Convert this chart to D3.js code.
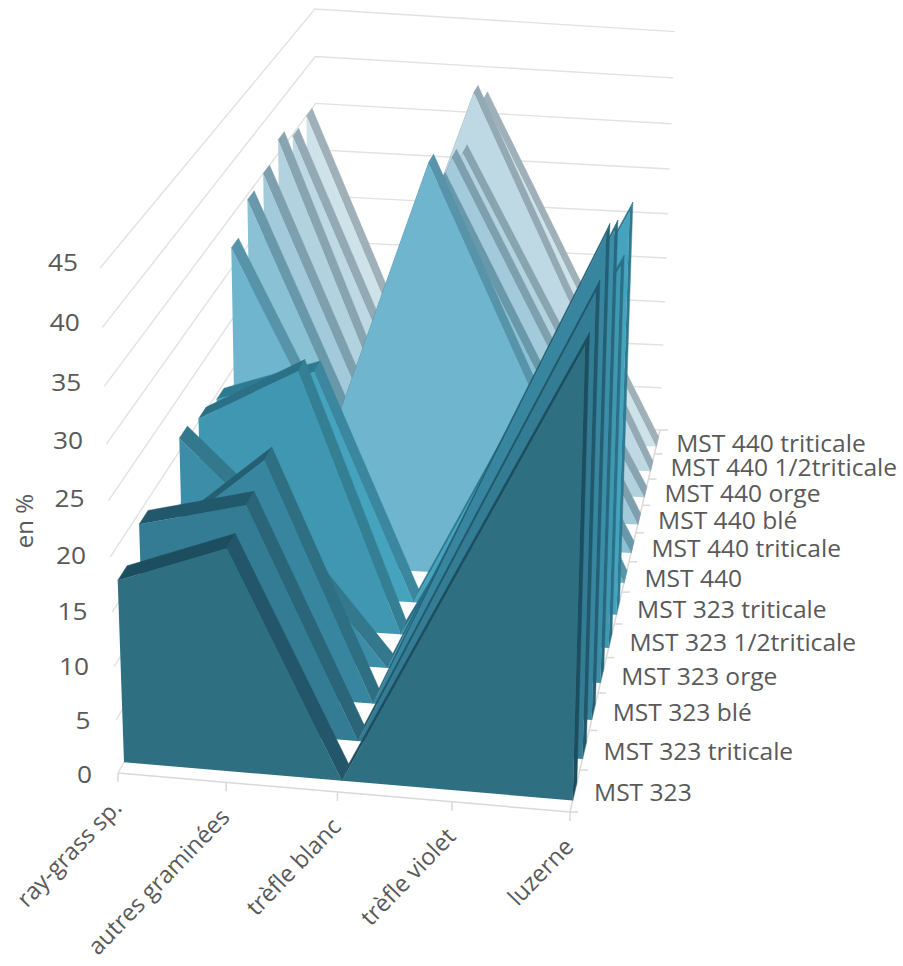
<!DOCTYPE html>
<html>
<head>
<meta charset="utf-8">
<script src="https://cdnjs.cloudflare.com/ajax/libs/d3/7.8.5/d3.min.js"></script>
<style>
	html, body { margin: 0; padding: 0; background: #fff; }
	svg text { font-family: "Open Sans", sans-serif; fill: #595959; }
</style>
</head>
<body>
<div id="chart"></div>
<script>
const categories = ["ray-grass sp.", "autres graminées", "trèfle blanc", "trèfle violet", "luzerne"];
const seriesNames = [
	"MST 323", "MST 323 triticale", "MST 323 blé", "MST 323 orge", "MST 323 1/2triticale", "MST 323 triticale",
	"MST 440", "MST 440 triticale", "MST 440 blé", "MST 440 orge", "MST 440 1/2triticale", "MST 440 triticale"
];
const yTicks = [0, 5, 10, 15, 20, 25, 30, 35, 40, 45];

// one array per series, same order as categories
const mst323 = [17, 20.5, 0, 19.5, 39];
const mst323Triticale = [19, 21.3, 0, 20.5, 41];
const mst323Ble = [14.5, 22.5, 0, 22, 43.6];
const mst323Orge = [21.2, 12, 0, 21, 41.8];
const mst323Demi = [20.3, 25.4, 0, 18, 36.5];
const mst323Triticale2 = [19.5, 22.7, 0, 19.5, 39.3];
const mst440 = [32, 13, 41, 20, 0];
const mst440Triticale = [34.5, 13, 37.2, 18.5, 0];
const mst440Ble = [35, 13, 37.5, 19, 0];
const mst440Orge = [36.4, 13, 36, 18, 0];
const mst440Demi = [34.8, 13, 40.3, 20, 0];
const mst440Triticale2 = [35, 13, 37.8, 19, 0];
const seriesValues = [mst323, mst323Triticale, mst323Ble, mst323Orge, mst323Demi, mst323Triticale2,
	mst440, mst440Triticale, mst440Ble, mst440Orge, mst440Demi, mst440Triticale2];

const faceColors = ["#2E6F82", "#337C93", "#37859F", "#3C8EA8", "#4097B2", "#45A3BE", "#6FB5CD", "#8BC1D4", "#A3CADA", "#B3D2DF", "#BFD9E4", "#CDE2E9"];
const fallColors = ["#23566A", "#2A6579", "#2F6F84", "#33788D", "#357F95", "#3A879F", "#5894A9", "#6A98AB", "#7D9FAE", "#88A4B0", "#93A9B3", "#A0B0B8"];
const riseColors = ["#1D4E5F", "#22586B", "#245F74", "#28687E", "#2B7086", "#2E7A91", "#4B8499", "#5C8B9E", "#6F94A4", "#7C9AA8", "#899FAB", "#97A8B1"];

const width = 903, height = 966;

// floor corners of the 3D box on screen: front left, front right, back right, back left
const floor = [[118, 773], [570, 812], [660, 430], [318, 417]];
const verticalVanish = [375, 8000];

function floorHomography(p) {
	const dx1 = p[1][0] - p[2][0], dx2 = p[3][0] - p[2][0], sx = p[0][0] - p[1][0] + p[2][0] - p[3][0];
	const dy1 = p[1][1] - p[2][1], dy2 = p[3][1] - p[2][1], sy = p[0][1] - p[1][1] + p[2][1] - p[3][1];
	const den = dx1 * dy2 - dx2 * dy1;
	const g = (sx * dy2 - dx2 * sy) / den;
	const h = (dx1 * sy - sx * dy1) / den;
	return {
		a: p[1][0] - p[0][0] + g * p[1][0], b: p[3][0] - p[0][0] + h * p[3][0], c: p[0][0],
		d: p[1][1] - p[0][1] + g * p[1][1], e: p[3][1] - p[0][1] + h * p[3][1], f: p[0][1],
		g, h
	};
}
const H = floorHomography(floor);

const xScale = d3.scalePoint().domain(categories).range([0, 1]);
const zScale = d3.scaleBand().domain(d3.range(seriesNames.length)).range([0, 1]).paddingInner(0.58).paddingOuter(0.27);
const zEdge = d3.scaleLinear().domain([0, seriesNames.length]).range([0, 1]);
const vScale = d3.scaleLinear().domain([0, 45]).range([0, -0.0653]);

// u along categories, w along series, v the value
function project(u, w, v) {
	// small correction so the back wall height fits the picture
	const k = vScale(v) * (1 + w * (0.045 - 0.065 * u));
	const W = H.g * u + H.h * w + 1 + k;
	return [
		(H.a * u + H.b * w + H.c + k * verticalVanish[0]) / W,
		(H.d * u + H.e * w + H.f + k * verticalVanish[1]) / W
	];
}

const svg = d3.select("#chart").append("svg")
	.attr("width", width)
	.attr("height", height)
	.style("display", "block");

// Walls
const gridGroup = svg.append("g").attr("fill", "none").attr("stroke", "#E2E2E2").attr("stroke-width", 1.4);
yTicks.forEach(t => {
	gridGroup.append("polyline")
		.attr("points", [project(0, 0, t), project(0, 1, t), project(1, 1, t)].join(" "));
});

// Floor edges and ticks
const axisGroup = svg.append("g").attr("fill", "none").attr("stroke", "#D9D9D9").attr("stroke-width", 1.5);
axisGroup.append("polyline").attr("points", [project(0, 0, 0), project(1, 0, 0), project(1, 1, 0)].join(" "));
categories.forEach(c => {
	const p = project(xScale(c), 0, 0);
	axisGroup.append("line").attr("x1", p[0]).attr("y1", p[1]).attr("x2", p[0]).attr("y2", p[1] + 9);
});
d3.range(seriesNames.length + 1).forEach(i => {
	const p = project(1, zEdge(i), 0);
	axisGroup.append("line").attr("x1", p[0]).attr("y1", p[1]).attr("x2", p[0] + 8).attr("y2", p[1]);
});

// Areas, back to front
const areaGroup = svg.append("g");
const polyPoints = pts => pts.map(p => p.map(n => n.toFixed(1)).join(",")).join(" ");

d3.range(seriesNames.length).reverse().forEach(s => {
	const values = seriesValues[s];
	const wFront = zScale(s);
	const wBack = wFront + zScale.bandwidth();
	const group = areaGroup.append("g");

	// right end cap
	const uEnd = xScale(categories[categories.length - 1]);
	const vEnd = values[values.length - 1];
	group.append("polygon")
		.attr("points", polyPoints([project(uEnd, wFront, 0), project(uEnd, wBack, 0), project(uEnd, wBack, vEnd), project(uEnd, wFront, vEnd)]))
		.attr("fill", riseColors[s])
		.attr("stroke", riseColors[s]).attr("stroke-width", 0.4);

	// top surface, one strip per segment
	d3.pairs(values.map((v, i) => [xScale(categories[i]), v])).forEach(([a, b]) => {
		group.append("polygon")
			.attr("points", polyPoints([project(a[0], wFront, a[1]), project(b[0], wFront, b[1]), project(b[0], wBack, b[1]), project(a[0], wBack, a[1])]))
			.attr("fill", b[1] < a[1] ? fallColors[s] : riseColors[s])
			.attr("stroke", b[1] < a[1] ? fallColors[s] : riseColors[s]).attr("stroke-width", 0.4);
	});

	// front face
	const top = values.map((v, i) => project(xScale(categories[i]), wFront, v));
	const base = [project(uEnd, wFront, 0), project(0, wFront, 0)];
	group.append("polygon")
		.attr("points", polyPoints(top.concat(base)))
		.attr("fill", faceColors[s]);
});

// Value labels
const yLabels = svg.append("g").attr("font-size", "23.5px").attr("text-anchor", "end");
yTicks.forEach(t => {
	const p = project(0, 0, t);
	yLabels.append("text")
		.attr("transform", `translate(${p[0] - 26 + t * 0.09},${p[1] + 10 - t * 0.16}) scale(1.12,1)`)
		.text(t);
});

svg.append("text")
	.attr("transform", "translate(33,521) rotate(-90)")
	.attr("text-anchor", "middle")
	.attr("font-size", "24px")
	.text("en %");

// Category labels
categories.forEach(c => {
	const p = project(xScale(c), 0, 0);
	svg.append("text")
		.attr("transform", `translate(${p[0] + 5},${p[1] + 36}) rotate(-46)`)
		.attr("text-anchor", "end")
		.attr("font-size", "23.6px")
		.text(c);
});

// Series labels
seriesNames.forEach((name, i) => {
	const p = project(1, zEdge(i + 0.5), 0);
	svg.append("text")
		.attr("transform", `translate(${p[0] + 19},${p[1] + 10}) scale(1.07,1)`)
		.attr("font-size", "23px")
		.text(name);
});
</script>
</body>
</html>
